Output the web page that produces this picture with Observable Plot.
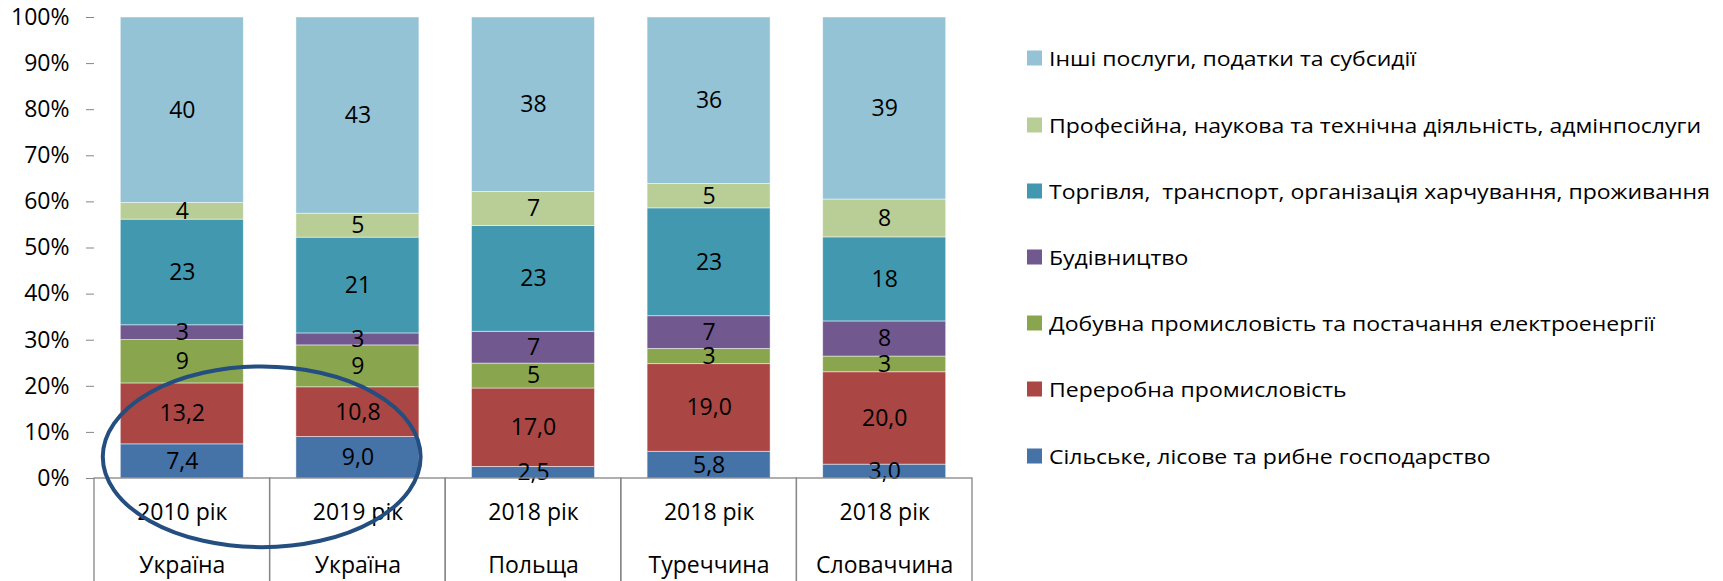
<!DOCTYPE html>
<html><head><meta charset="utf-8">
<script src="https://cdn.jsdelivr.net/npm/d3@7"></script>
<script src="https://cdn.jsdelivr.net/npm/@observablehq/plot@0.6"></script>
<style>
body{margin:0;background:#fff;font-family:"Open Sans",sans-serif;}
#wrap{position:relative;width:1723px;height:581px;overflow:hidden;}
#wrap svg{position:absolute;left:0;top:0;}
.item{position:absolute;left:1027px;display:flex;align-items:center;white-space:pre;font-size:20px;color:#000;transform:translateY(-50%);font-family:"Open Sans",sans-serif;}
.sw{width:15px;height:15px;margin-right:7px;flex:none;}
.tx{display:inline-block;transform:scaleX(1.15);transform-origin:0 50%;}
</style></head><body><div id="wrap"></div>
<script>
// categories
const countries = ["Україна", "Україна", "Польща", "Туреччина", "Словаччина"];
const years = ["2010 рік", "2019 рік", "2018 рік", "2018 рік", "2018 рік"];
// series, bottom to top
const sectors = [
  "Сільське, лісове та рибне господарство",
  "Переробна промисловість",
  "Добувна промисловість та постачання електроенергії",
  "Будівництво",
  "Торгівля,  транспорт, організація харчування, проживання",
  "Професійна, наукова та технічна діяльність, адмінпослуги",
  "Інші послуги, податки та субсидії"
];
const colors = ["#4572A7", "#AA4643", "#89A54E", "#71588F", "#4198AF", "#B9CD96", "#93C3D5"];
// values, %
const agriculture   = [7.4, 9.0, 2.5, 5.8, 3.0];
const manufacturing = [13.2, 10.8, 17.0, 19.0, 20.0];
const mining        = [9.4, 9.1, 5.4, 3.3, 3.4];
const construction  = [3.2, 2.6, 6.9, 7.1, 7.6];
const trade         = [22.9, 20.8, 22.9, 23.4, 18.2];
const professional  = [3.6, 5.2, 7.4, 5.3, 8.2];
const other         = [40.2, 42.6, 37.8, 36.1, 39.4];
const decimals      = [1, 1, 0, 0, 0, 0, 0];
const yTicks = [0, 0.1, 0.2, 0.3, 0.4, 0.5, 0.6, 0.7, 0.8, 0.9, 1];

const series = [agriculture, manufacturing, mining, construction, trade, professional, other];
const keys = countries.map((c, i) => i + "|" + years[i] + "|" + c);
const rows = [];
series.forEach((vals, s) => vals.forEach((v, i) => rows.push({
  key: keys[i], sector: sectors[s], value: v,
  label: decimals[s] ? v.toFixed(decimals[s]).replace(".", ",") : String(Math.round(v))
})));
const cats = keys.map((k, i) => ({key: k, year: years[i], country: countries[i]}));

const gray = "#868686";
const plot = Plot.plot({
  width: 1000, height: 581,
  marginLeft: 94, marginRight: 28, marginTop: 17, marginBottom: 103,
  style: {fontFamily: "'Open Sans', sans-serif", fontSize: "23px", background: "transparent"},
  x: {domain: keys, padding: 0, round: false, axis: null},
  y: {domain: [0, 1], axis: null},
  color: {domain: sectors, range: colors},
  marks: [
    Plot.barY(rows, Plot.stackY({x: "key", y: "value", fill: "sector", offset: "normalize",
      insetLeft: 26.3, insetRight: 26.3, stroke: "white", strokeWidth: 0.8, strokeOpacity: 0.6})),
    Plot.text(rows, Plot.stackY({x: "key", y: "value", z: "sector", offset: "normalize",
      text: "label", fill: "#000", fontSize: 23})),
    Plot.barY(cats, {x: "key", y1: 0, y2: -0.25, fill: "none", stroke: gray, strokeWidth: 1.3}),
    Plot.axisY({ticks: yTicks, tickSize: 8, tickPadding: 17, line: true, stroke: gray, fill: "#000",
      tickFormat: d => Math.round(d * 100) + "%", fontSize: 23, label: null}),
    Plot.text(cats, {x: "key", y: 0, text: "year", dy: 34, lineAnchor: "middle", fill: "#000", fontSize: 23}),
    Plot.text(cats, {x: "key", y: 0, text: "country", dy: 87, lineAnchor: "middle", fill: "#000", fontSize: 23})
  ]
});

// highlight ellipse around the two Ukrainian bars' lower segments
const sx = plot.scale("x"), sy = plot.scale("y");
const step = sx.bandwidth;
const cx = sx.apply(keys[0]) + step * 0.955;
const cy = sy.apply(0.046);
const rx = step * 0.905;
const ry = sy.apply(0) - sy.apply(0.196);
d3.select(plot).append("ellipse")
  .attr("cx", cx).attr("cy", cy).attr("rx", rx).attr("ry", ry)
  .attr("fill", "none").attr("stroke", "#234E7F").attr("stroke-width", 4);

const wrap = document.getElementById("wrap");
wrap.appendChild(plot);

// legend (top to bottom: reverse stacking order)
const legendTop = 58.3, legendStep = 66.2;
sectors.slice().reverse().forEach((s, i) => {
  const div = document.createElement("div");
  div.className = "item";
  div.style.top = (legendTop + i * legendStep) + "px";
  const sw = document.createElement("span");
  sw.className = "sw";
  sw.style.background = colors[sectors.indexOf(s)];
  const t = document.createElement("span");
  t.className = "tx";
  t.textContent = s;
  div.appendChild(sw); div.appendChild(t);
  wrap.appendChild(div);
});
</script></body></html>
